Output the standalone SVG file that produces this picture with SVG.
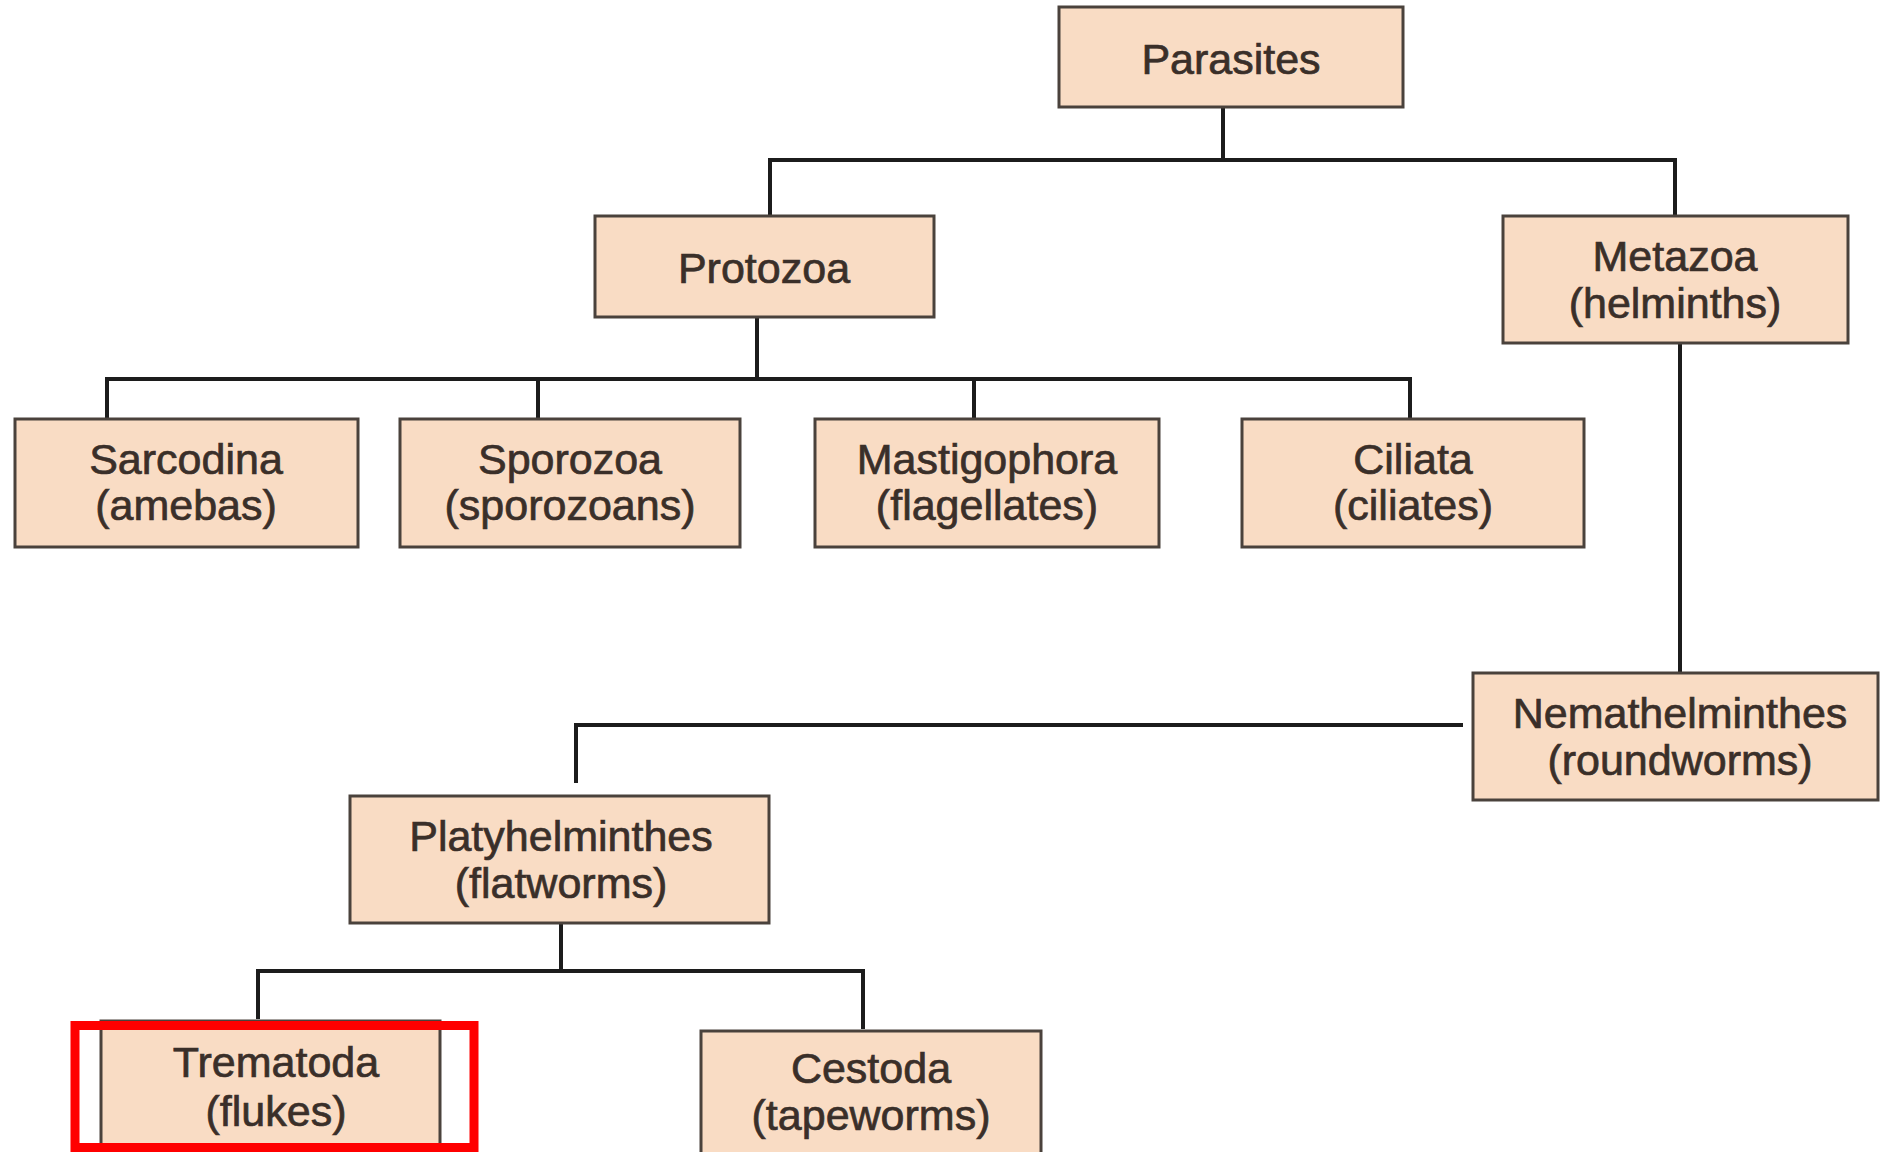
<svg xmlns="http://www.w3.org/2000/svg" width="1880" height="1152" viewBox="0 0 1880 1152">
<style>
.box{fill:#F9DCC4;stroke:#4a423c;stroke-width:3}
.lbl{font-family:"Liberation Sans",Arial,sans-serif;font-size:43px;fill:#3a2f29;stroke:#3a2f29;stroke-width:0.7;text-anchor:middle}
.con{fill:none;stroke:#1c1c1c;stroke-width:4;stroke-linecap:butt;stroke-linejoin:miter}
</style>
<rect width="1880" height="1152" fill="#ffffff"/>
<g id="connectors">
<path class="con" d="M1223,107 V160 M770,216 V160 H1675 V216"/>
<path class="con" d="M757,317 V379 M107,418 V379 H1410 V418 M538,379 V418 M974,379 V418"/>
<path class="con" d="M1680,343 V674"/>
<path class="con" d="M1463,725 H576 V783"/>
<path class="con" d="M561,923 V971 M258,1019 V971 H863 V1029"/>
</g>
<g id="parasites"><rect class="box" x="1059" y="7" width="344" height="100"/><text class="lbl" x="1231" y="74">Parasites</text></g>
<g id="protozoa"><rect class="box" x="595" y="216" width="339" height="101"/><text class="lbl" x="764" y="283">Protozoa</text></g>
<g id="metazoa"><rect class="box" x="1503" y="216" width="345" height="127"/><text class="lbl" x="1675" y="271">Metazoa</text><text class="lbl" x="1675" y="318">(helminths)</text></g>
<g id="sarcodina"><rect class="box" x="15" y="419" width="343" height="128"/><text class="lbl" x="186" y="474">Sarcodina</text><text class="lbl" x="186" y="520">(amebas)</text></g>
<g id="sporozoa"><rect class="box" x="400" y="419" width="340" height="128"/><text class="lbl" x="570" y="474">Sporozoa</text><text class="lbl" x="570" y="520">(sporozoans)</text></g>
<g id="mastigophora"><rect class="box" x="815" y="419" width="344" height="128"/><text class="lbl" x="987" y="474">Mastigophora</text><text class="lbl" x="987" y="520">(flagellates)</text></g>
<g id="ciliata"><rect class="box" x="1242" y="419" width="342" height="128"/><text class="lbl" x="1413" y="474">Ciliata</text><text class="lbl" x="1413" y="520">(ciliates)</text></g>
<g id="nemathelminthes"><rect class="box" x="1473" y="673" width="405" height="127"/><text class="lbl" x="1680" y="728">Nemathelminthes</text><text class="lbl" x="1680" y="775">(roundworms)</text></g>
<g id="platyhelminthes"><rect class="box" x="350" y="796" width="419" height="127"/><text class="lbl" x="561" y="851">Platyhelminthes</text><text class="lbl" x="561" y="898">(flatworms)</text></g>
<g id="trematoda"><rect class="box" x="101" y="1021" width="339" height="140"/><text class="lbl" x="276" y="1077">Trematoda</text><text class="lbl" x="276" y="1126">(flukes)</text></g>
<g id="cestoda"><rect class="box" x="701" y="1031" width="340" height="130"/><text class="lbl" x="871" y="1083">Cestoda</text><text class="lbl" x="871" y="1130">(tapeworms)</text></g>
<rect id="highlight" x="75" y="1025.5" width="399" height="122" fill="none" stroke="#ff0000" stroke-width="9"/>
</svg>
